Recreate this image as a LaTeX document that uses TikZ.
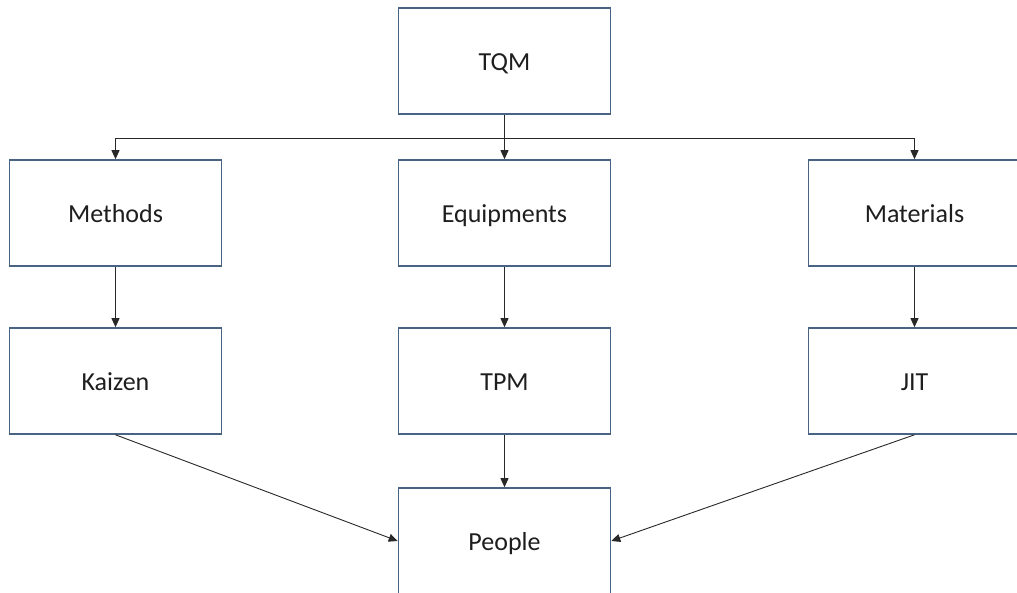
\documentclass[tikz,border=0pt]{standalone}
\usepackage{fontspec}
\setmainfont{Carlito}
\usetikzlibrary{arrows.meta}
\definecolor{boxline}{RGB}{72,100,130}
\definecolor{txt}{RGB}{30,30,30}
\definecolor{wire}{RGB}{40,40,40}
\tikzset{
  box/.style={draw=boxline, line width=1.6pt, fill=white, minimum width=212pt,
    minimum height=106pt, inner sep=0pt, text=txt, text height=19.5pt, text depth=0pt,
    font=\fontsize{26}{31}\selectfont},
  wireline/.style={draw=wire, line width=0.9pt},
  arr/.style={wireline, -{Triangle[width=8pt,length=9pt]}}
}
\begin{document}
\begin{tikzpicture}[x=1pt,y=-1pt]
  \useasboundingbox (0,0) rectangle (1017,593);
  % top of the tree
  \node[box] (tqm) at (504.5,61) {TQM};
  % second row
  \node[box] (meth) at (115.5,213) {Methods};
  \node[box] (equ)  at (504.5,213) {Equipments};
  \node[box] (mat)  at (914.5,213) {Materials};
  % third row
  \node[box] (kai) at (115.5,381) {Kaizen};
  \node[box] (tpm) at (504.5,381) {TPM};
  \node[box] (jit) at (914.5,381) {JIT};
  % bottom
  \node[box] (ppl) at (504.5,541) {People};

  % distribution bus under TQM
  \coordinate (busL) at (115.5,138);
  \coordinate (busR) at (914.5,138);
  \draw[wireline] (busL) -- (busR);
  \draw[arr] (tqm.south) -- (equ.north);
  \draw[arr] (busL) -- (meth.north);
  \draw[arr] (busR) -- (mat.north);

  % second to third row
  \draw[arr] (meth.south) -- (kai.north);
  \draw[arr] (equ.south) -- (tpm.north);
  \draw[arr] (mat.south) -- (jit.north);

  % into People
  \draw[arr] (kai.south) -- (ppl.west);
  \draw[arr] (tpm.south) -- (ppl.north);
  \draw[arr] (jit.south) -- (ppl.east);
\end{tikzpicture}
\end{document}
